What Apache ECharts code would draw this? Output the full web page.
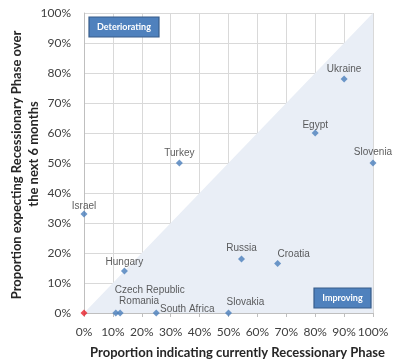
<!DOCTYPE html>
<html><head><meta charset="utf-8">
<script src="https://cdn.jsdelivr.net/npm/echarts@6/dist/echarts.min.js"></script>
<style>html,body{margin:0;padding:0;background:#fff}#c{width:400px;height:363px}</style>
</head><body><div id="c"></div>
<script>
const countries = ["Israel","Turkey","Ukraine","Egypt","Slovenia","Hungary","Russia","Croatia","Czech Republic","Romania","South Africa","Slovakia"];
const currentPct = [0,33,90,80,100,14,54.5,67,11,12.5,25,50];
const expectPct  = [33,50,78,60,50,14,18,16.5,0,0,0,0];
const originPoint = [[0,0]];
const xTicks = ["0%","10%","20%","30%","40%","50%","60%","70%","80%","90%","100%"];
const diagonal = [[0,0],[100,100]];
const yTitle1 = "Proportion expecting Recessionary Phase over";
const yTitle2 = "the next 6 months";
const xTitle = "Proportion indicating currently Recessionary Phase";

// label placement (style only)
const labelOffsets = {
  "Israel":[0,-8],"Turkey":[0,-10],"Ukraine":[0,-10],"Egypt":[0,-8],"Slovenia":[0,-10.5],
  "Hungary":[0,-9],"Russia":[0,-11],"Croatia":[16,-9],"Czech Republic":[34,-23],
  "Romania":[19,-12],"South Africa":[31,-4],"Slovakia":[17,-11]
};

const pts = countries.map((n,i)=>({
  value:[currentPct[i], expectPct[i]], name:n,
  label:{show:true, position:'inside', offset:labelOffsets[n], formatter:n}
}));

const chart = echarts.init(document.getElementById('c'), null, {renderer:'canvas'});
const fontMain = 'Lato, "Open Sans", sans-serif';
function box(x,y,w,h,txt){
  return {type:'group', x:x, y:y, children:[
    {type:'rect', z:100, shape:{x:0,y:0,width:w,height:h},
      style:{fill:'#4F81BD', stroke:'#385D8A', lineWidth:1.2}},
    {type:'text', z:101, x:w/2, y:h/2, style:{text:txt, fill:'#fff', font:'bold 9px Lato, sans-serif', align:'center', verticalAlign:'middle'}}
  ]};
}
function titleText(x,y,txt,rot){
  return {type:'text', x:x, y:y, rotation:rot,
    style:{text:txt, fill:'#262626', font:'bold 13px Lato, sans-serif', align:'center', verticalAlign:'middle'}};
}
chart.setOption({
  animation:false,
  grid:{left:84, right:27, top:13, bottom:50, containLabel:false, outerBoundsMode:'none'},
  xAxis:{type:'value', min:0, max:100, interval:10,
    axisLine:{show:true, lineStyle:{color:'#BFBFBF'}},
    axisTick:{show:true, length:4, lineStyle:{color:'#BFBFBF'}},
    splitLine:{lineStyle:{color:'#D9D9D9'}},
    axisLabel:{margin:13, color:'#404040', fontSize:12, fontFamily:fontMain,
      formatter:(v)=>xTicks[Math.round(v/10)]}
  },
  yAxis:{type:'value', min:0, max:100, interval:10,
    axisLine:{show:true, lineStyle:{color:'#BFBFBF'}},
    axisTick:{show:false},
    splitLine:{lineStyle:{color:'#D9D9D9'}},
    axisLabel:{margin:13, color:'#404040', fontSize:12, fontFamily:fontMain,
      formatter:(v)=>xTicks[Math.round(v/10)]}
  },
  series:[
    {type:'line', data:diagonal, symbol:'none', lineStyle:{width:0, opacity:0},
      areaStyle:{color:'#E9EEF6', opacity:1}, silent:true, z:1},
    {type:'scatter', data:pts, symbol:'diamond', symbolSize:7,
      itemStyle:{color:'#4A7EBB'},
      label:{color:'#333', fontSize:10, fontFamily:'"Liberation Sans", Arial, sans-serif'}, z:3},
    {type:'scatter', data:originPoint, symbol:'diamond', symbolSize:7, itemStyle:{color:'#E8212B'}, z:4}
  ],
  graphic:[ box(89,17,70,20,'Deteriorating'), box(314,288,57,20,'Improving'),
    titleText(17,165,yTitle1,Math.PI/2), titleText(34,154,yTitle2,Math.PI/2),
    titleText(237.5,353,xTitle,0) ]
});
</script></body></html>
